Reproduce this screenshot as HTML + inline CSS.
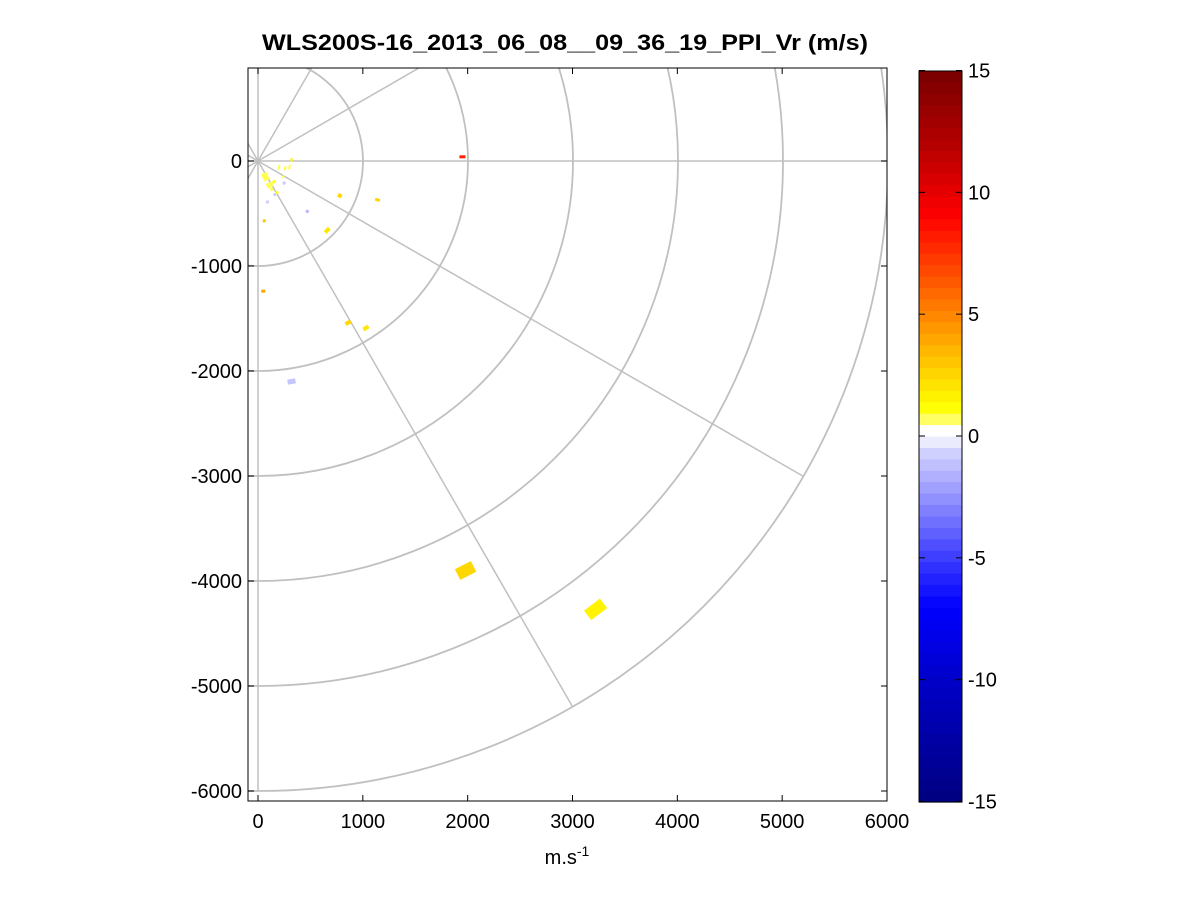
<!DOCTYPE html>
<html><head><meta charset="utf-8"><style>
body{margin:0;background:#fff;font-family:"Liberation Sans",Arial,sans-serif}
svg text{font-family:"Liberation Sans",Arial,sans-serif}
</style></head><body>
<svg id="c" width="1201" height="901" xmlns="http://www.w3.org/2000/svg"></svg>
<script>
const xTicks=[0,1000,2000,3000,4000,5000,6000];
const yTicks=[0,-1000,-2000,-3000,-4000,-5000,-6000];
const ringRadii=[1000,2000,3000,4000,5000,6000];
const spokeAngles=[0,30,60,90,120,150,180,210,240,270,300,330];
const cbTicks=[15,10,5,0,-5,-10,-15];
// patches: x, y (m), value (m/s), tangential width, radial depth (px)
const patchX=[1950,1980,3220,320,1030,860,50,660,780,1140,470,60,70,110,150,200,260,300,320,180,250,130,160,240,90];
const patchY=[40,-3900,-4270,-2100,-1590,-1540,-1240,-660,-330,-370,-480,-570,-150,-230,-200,-60,-70,-60,10,-300,-210,-270,-320,-150,-390];
const patchV=[8,2.5,1.6,-1,2,2.5,4,2,2.5,2.5,-1.5,3,0.8,0.8,1,0.8,1,0.8,1.5,1,-0.8,0.8,-0.8,0.8,-0.8];
const patchW=[3,18,20,8,6,6,4,6,4,3,3,3,6,6,4,5,4,5,4,3,3,3,3,3,3];
const patchD=[6,12,12,5,4,4,3,4,4,5,3,3,8,5,3,2,2,2,2,3,3,3,3,2,3];

const svg=document.getElementById('c');const NS='http://www.w3.org/2000/svg';
function mk(t,a,p){const e=document.createElementNS(NS,t);for(const k in a)e.setAttribute(k,a[k]);(p||svg).appendChild(e);return e;}
const L=248,R=887,T=68,B=801;
const sx=v=>258+v*(629/6000), sy=v=>161-v*0.105;
const cbTop=71,cbBot=802,cbL=919,cbR=962;
const cy=v=>436-v*(cbBot-cbTop)/30;
function cmap(v){
 const anchors=[[-15,0,0,128],[-10,0,0,200],[-7,0,0,255],[-5,60,60,255],[-3,130,130,255],[-0.5,215,215,255],[0,255,255,255],[0.5,255,255,255],[0.6,255,255,120],[1.2,255,255,0],[3,255,200,0],[6,255,100,0],[9,255,0,0],[12,180,0,0],[15,120,0,0]];
 for(let i=0;i<anchors.length-1;i++){const a=anchors[i],b=anchors[i+1];if(v<=b[0]){const t=(v-a[0])/(b[0]-a[0]);return `rgb(${[1,2,3].map(k=>Math.round(a[k]+(b[k]-a[k])*Math.max(0,Math.min(1,t)))).join(',')})`;}}
 return 'rgb(120,0,0)';
}
mk('defs',{}).innerHTML='<clipPath id="clp"><rect x="248" y="68" width="639" height="733"/></clipPath>';
const g=mk('g',{'clip-path':'url(#clp)'});
ringRadii.forEach(r=>{const e=mk('circle',{cx:sx(0),cy:sy(0),r:r*0.105,fill:'none',stroke:'#c0c0c0','stroke-width':1.8},g);});
spokeAngles.forEach(a=>{const rad=a*Math.PI/180;const e=mk('line',{x1:sx(0),y1:sy(0),x2:sx(6000*Math.cos(rad)),y2:sy(6000*Math.sin(rad)),stroke:'#c0c0c0','stroke-width':1.5},g);});
patchX.forEach((x,i)=>{const px=sx(x),py=sy(patchY[i]);const ang=Math.atan2(-(py-sy(0)),px-sx(0))*180/Math.PI;const rot=-(ang+90);
 const e=mk('rect',{x:px-patchW[i]/2,y:py-patchD[i]/2,width:patchW[i],height:patchD[i],fill:cmap(patchV[i]),transform:`rotate(${rot} ${px} ${py})`},g);
 });
const ax=mk('rect',{x:L,y:T,width:R-L,height:B-T,fill:'none',stroke:'#000','stroke-width':1});
xTicks.forEach(v=>{const x=sx(v);mk('line',{x1:x,y1:B,x2:x,y2:B-6,stroke:'#000'});mk('line',{x1:x,y1:T,x2:x,y2:T+6,stroke:'#000'});const t=mk('text',{x:x,y:B+27,'text-anchor':'middle','font-size':20});t.textContent=v;});
yTicks.forEach(v=>{const y=sy(v);mk('line',{x1:L,y1:y,x2:L+6,y2:y,stroke:'#000'});mk('line',{x1:R,y1:y,x2:R-6,y2:y,stroke:'#000'});const t=mk('text',{x:L-6,y:y+7,'text-anchor':'end','font-size':20});t.textContent=v;});
const xl=mk('text',{x:567,y:864,'text-anchor':'middle','font-size':20});xl.innerHTML='m.s<tspan dy="-8" font-size="14">-1</tspan>';
const tt=mk('text',{x:262,y:50,'font-size':22,'font-weight':'bold',textLength:606,lengthAdjust:'spacingAndGlyphs'});tt.textContent='WLS200S-16_2013_06_08__09_36_19_PPI_Vr (m/s)';
const cb=mk('g',{});
const N=64,h=(cbBot-cbTop)/N;
for(let i=0;i<N;i++){const v=15-(i+0.5)*30/N;mk('rect',{x:cbL,y:cbTop+i*h,width:cbR-cbL,height:h+0.6,fill:cmap(v)},cb);}
mk('rect',{x:cbL,y:cbTop,width:cbR-cbL,height:cbBot-cbTop,fill:'none',stroke:'#000'},cb);
cbTicks.forEach(v=>{const y=cy(v);mk('line',{x1:cbL,y1:y,x2:cbL+6,y2:y,stroke:'#000'},cb);mk('line',{x1:cbR,y1:y,x2:cbR-6,y2:y,stroke:'#000'},cb);const t=mk('text',{x:968,y:y+7,'font-size':20},cb);t.textContent=v;});
</script></body></html>
